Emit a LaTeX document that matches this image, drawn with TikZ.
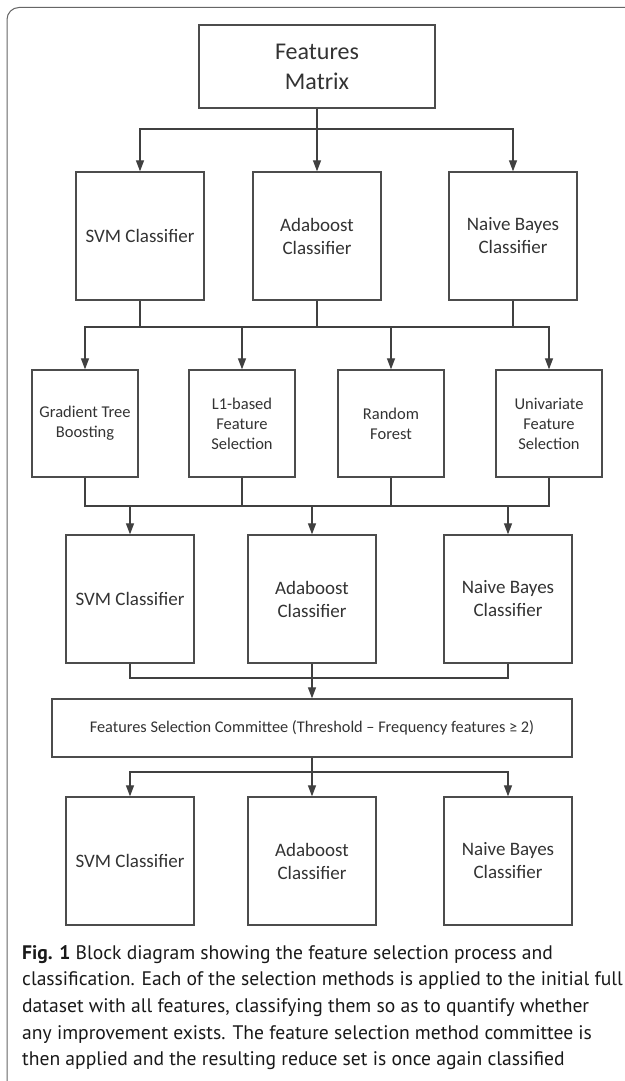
\documentclass[tikz,border=0pt]{standalone}
\usepackage{fontspec}
\setmainfont{PT Sans}
\newfontfamily\carl{Carlito}
\usetikzlibrary{arrows.meta}
\begin{document}
\begin{tikzpicture}[x=1pt,y=-1pt]
\tikzset{
  box/.style={draw=black!70, line width=1.3pt, fill=white, align=center, inner sep=0pt, text=black!80},
  bigbox/.style={box, minimum width=128pt, minimum height=128pt, font=\carl\fontsize{19}{23}\selectfont},
  smallbox/.style={box, minimum width=106pt, minimum height=107pt, font=\carl\fontsize{16.5}{20}\selectfont},
  conn/.style={draw=black!75, line width=1.2pt},
  arr/.style={conn, -{Triangle[length=11pt,width=8pt]}},
}
\useasboundingbox (0,0) rectangle (624,1081);
\fill[white] (0,0) rectangle (624,1081);
% frame
\draw[draw=black!60, line width=1pt, rounded corners=12pt] (7,1095) -- (7,7.5) -- (640,7.5);

\node[box, minimum width=236pt, minimum height=83pt, font=\carl\fontsize{24}{30}\selectfont] (fm) at (317,66.5) {Features\\Matrix};

\node[bigbox] (svmA) at (140,236) {SVM Classifier};
\node[bigbox] (adaA) at (317,236) {Adaboost\\Classifier};
\node[bigbox] (nbA)  at (513,236) {Naive Bayes\\Classifier};

\node[smallbox] (gtb) at (85,423.5)  {Gradient Tree\\Boosting};
\node[smallbox] (l1)  at (242,423.5) {L1-based\\Feature\\Selection};
\node[smallbox] (rf)  at (391,423.5) {Random\\Forest};
\node[smallbox] (uni) at (549,423.5) {Univariate\\Feature\\Selection};

\node[bigbox] (svmB) at (130,599) {SVM Classifier};
\node[bigbox] (adaB) at (312,599) {Adaboost\\Classifier};
\node[bigbox] (nbB)  at (508,599) {Naive Bayes\\Classifier};

\node[box, minimum width=520pt, minimum height=58pt, font=\carl\fontsize{16.3}{19}\selectfont] (com) at (312,728) {Features Selection Committee (Threshold – Frequency features ≥ 2)};

\node[bigbox] (svmC) at (130,861) {SVM Classifier};
\node[bigbox] (adaC) at (312,861) {Adaboost\\Classifier};
\node[bigbox] (nbC)  at (508,861) {Naive Bayes\\Classifier};

\coordinate (j1) at (317,129);
\coordinate (j2) at (317,327);
\coordinate (j3) at (312,506);
\coordinate (j4) at (312,678);
\coordinate (j5) at (312,772);

\draw[conn] (fm.south) -- (j1);
\draw[arr] (j1) -| (svmA.north);
\draw[arr] (j1) -- (adaA.north);
\draw[arr] (j1) -| (nbA.north);

\draw[conn] (svmA.south) |- (j2);
\draw[conn] (adaA.south) -- (j2);
\draw[conn] (nbA.south) |- (j2);
\draw[arr] (j2) -| (gtb.north);
\draw[arr] (j2) -| (l1.north);
\draw[arr] (j2) -| (rf.north);
\draw[arr] (j2) -| (uni.north);

\draw[conn] (gtb.south) |- (j3);
\draw[conn] (l1.south) |- (j3);
\draw[conn] (rf.south) |- (j3);
\draw[conn] (uni.south) |- (j3);
\draw[arr] (j3) -| (svmB.north);
\draw[arr] (j3) -- (adaB.north);
\draw[arr] (j3) -| (nbB.north);

\draw[conn] (svmB.south) |- (j4);
\draw[conn] (adaB.south) -- (j4);
\draw[conn] (nbB.south) |- (j4);
\draw[arr] (j4) -- (com.north);

\draw[conn] (com.south) -- (j5);
\draw[arr] (j5) -| (svmC.north);
\draw[arr] (j5) -- (adaC.north);
\draw[arr] (j5) -| (nbC.north);

\node[anchor=north west, align=left, inner sep=0pt, text=black!90, font=\fontsize{19.6}{26.7}\selectfont] (cap) at (22,945)
{\textbf{Fig. 1} Block diagram showing the feature selection process and\\
classification. Each of the selection methods is applied to the initial full\\
dataset with all features, classifying them so as to quantify whether\\
any improvement exists. The feature selection method committee is\\
then applied and the resulting reduce set is once again classified};
\end{tikzpicture}
\end{document}
